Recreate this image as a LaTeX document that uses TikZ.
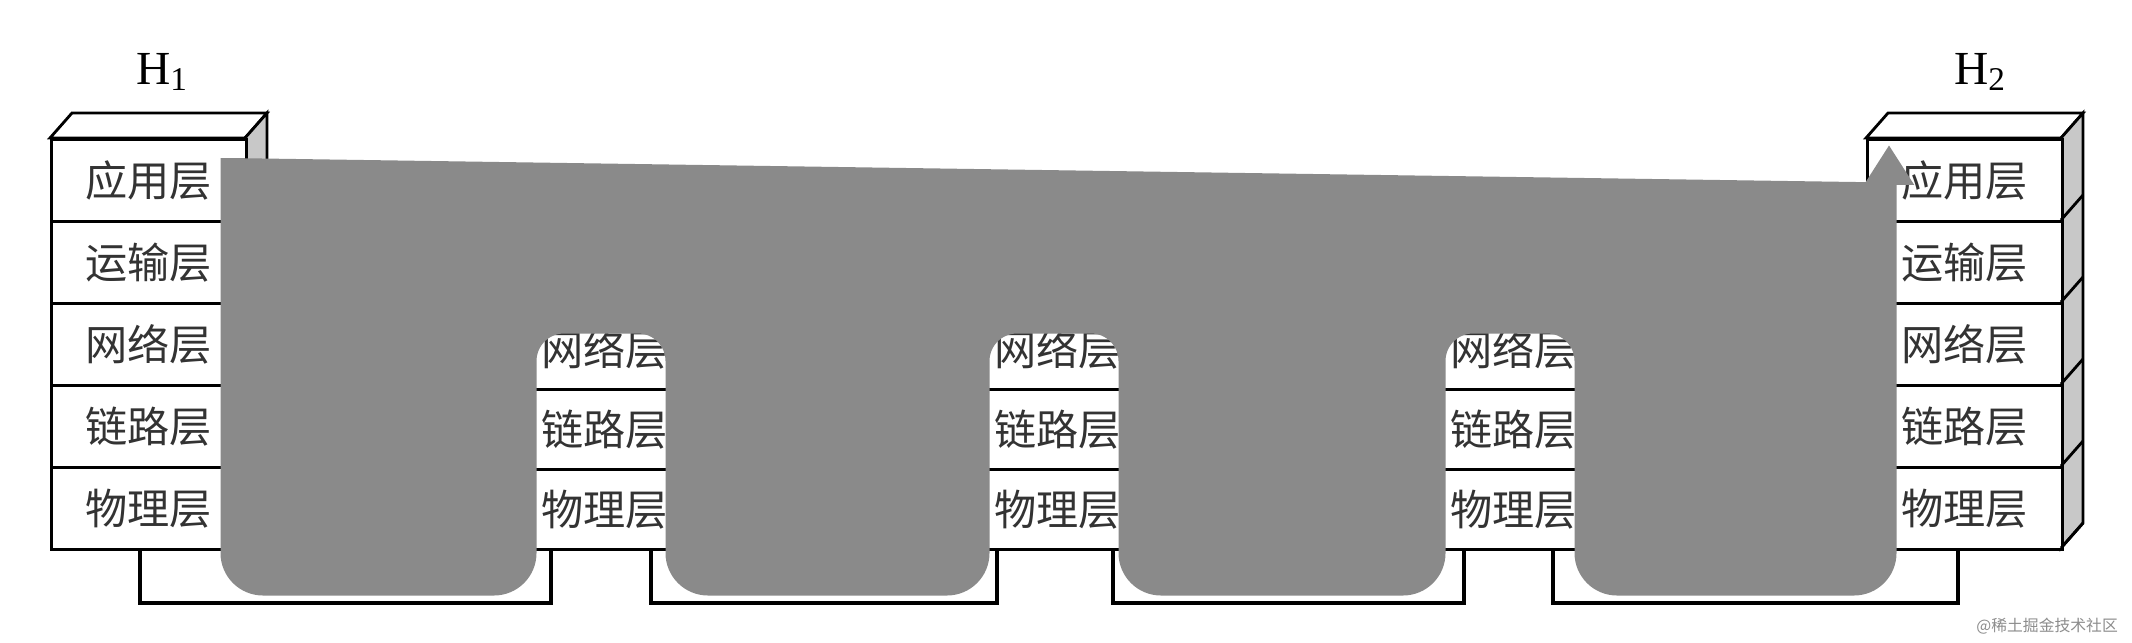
\documentclass[tikz,border=0pt]{standalone}
\usepackage{fontspec}
\setmainfont{Liberation Serif}
\newfontfamily\cjk{Noto Sans CJK SC}
\usetikzlibrary{calc,arrows.meta}
\definecolor{sidegray}{HTML}{C8C8C8}
\definecolor{flow}{HTML}{8A8A8A}
\tikzset{
  layer/.style={draw,line width=1.6pt,fill=white,minimum width=3.9cm,inner sep=0pt,font=\cjk\fontsize{24}{24}\selectfont,text=black!80},
  face/.style={draw,line width=1.6pt},
  lbl/.style={font=\fontsize{27}{27}\selectfont},
  link/.style={line width=2.2pt},
  flowline/.style={line width=0.3cm,draw=flow,fill=flow,rounded corners=0.7cm}
}
% #1 name, #2 left x, #3 layers, #4 layer height, #5 list
\newcommand\mystack[5]{%
  \pgfmathsetmacro\topy{548-#4*#3}
  \draw[face,fill=white] (#2,\topy) -- (#2+22,\topy-25) -- (#2+217,\topy-25) -- (#2+195,\topy) -- cycle;
  \draw[face,fill=sidegray] (#2+195,\topy) -- (#2+217,\topy-25) -- (#2+217,523) -- (#2+195,548) -- cycle;
  \foreach \t [count=\i] in {#5} {
    \node[layer,minimum height=#4*0.02cm,anchor=north west] (#1-\i) at (#2,\topy+#4*\i-#4) {\t};
    \draw[face] (#2+195,\topy+#4*\i) -- (#2+217,\topy+#4*\i-25);
  }
}
\begin{document}
\begin{tikzpicture}[x=0.02cm,y=-0.02cm]
\useasboundingbox (0,0) rectangle (2132,642);
\mystack{H1}{50}{5}{82}{应用层,运输层,网络层,链路层,物理层}
\mystack{R1}{506}{3}{80}{网络层,链路层,物理层}
\mystack{R2}{959}{3}{80}{网络层,链路层,物理层}
\mystack{R3}{1415}{3}{80}{网络层,链路层,物理层}
\mystack{H2}{1866}{5}{82}{应用层,运输层,网络层,链路层,物理层}
\node[lbl] (lH1) at (162,72) {H\textsubscript{1}};
\node[lbl] (lR1) at (600,248) {R\textsubscript{1}};
\node[lbl] (lR2) at (1067,248) {R\textsubscript{2}};
\node[lbl] (lR3) at (1520,248) {R\textsubscript{3}};
\node[lbl] (lH2) at (1980,72) {H\textsubscript{2}};
% links
\coordinate (a1) at ($(H1-5.south west)+(90,0)$);
\coordinate (a2) at ($(R1-3.south west)+(45,0)$);
\coordinate (b1) at ($(R1-3.south east)+(-53,0)$);
\coordinate (b2) at ($(R2-3.south west)+(38,0)$);
\coordinate (c1) at ($(R2-3.south east)+(-44,0)$);
\coordinate (c2) at ($(R3-3.south west)+(49,0)$);
\coordinate (d1) at ($(R3-3.south east)+(-60,0)$);
\coordinate (d2) at ($(H2-5.south west)+(92,0)$);
\foreach \p/\q in {a1/a2,b1/b2,c1/c2,d1/d2}
  \draw[link] (\p) -- ++(0,52) -| (\q);
% data flow
\coordinate (s) at (228,158);
\coordinate (e) at (1889,145);
\draw[flowline,-{Triangle[width=0.95cm,length=0.8cm]}] (s) -- (228,588) -- (529,588) -- (529,326) -- (673,326) -- (673,588) -- (982,588) -- (982,326) -- (1126,326) -- (1126,588) -- (1438,588) -- (1438,326) -- (1582,326) -- (1582,588) -- (1889,588) -- (e);
\node[anchor=east,font=\cjk\fontsize{9}{9}\selectfont,text=black!45] (wm) at (2124,626) {@稀土掘金技术社区};
\end{tikzpicture}
\end{document}
